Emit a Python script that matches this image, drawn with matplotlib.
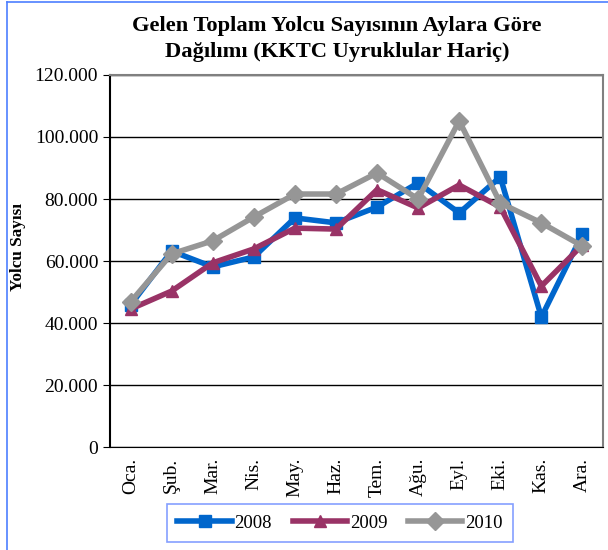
import matplotlib
matplotlib.use("Agg")
import matplotlib.pyplot as plt
from matplotlib.ticker import FuncFormatter
from matplotlib.lines import Line2D

aylar = ["Oca.", "Şub.", "Mar.", "Nis.", "May.", "Haz.", "Tem.", "Ağu.", "Eyl.", "Eki.", "Kas.", "Ara."]
y2008 = [45800, 63200, 58100, 61300, 73900, 72300, 77400, 85200, 75500, 87100, 41900, 68700]
y2009 = [44500, 50300, 59400, 63900, 70600, 70300, 83000, 77100, 84500, 77400, 51900, 65200]
y2010 = [46800, 62300, 66500, 74200, 81600, 81600, 88400, 80000, 105200, 78700, 72300, 64800]

plt.rcParams['font.family'] = ['Liberation Serif', 'DejaVu Serif']

fig = plt.figure(figsize=(6.08, 5.5), dpi=100)
ax = fig.add_axes([110/608, 1 - 447/550, 493/608, 372/550])

x = range(len(aylar))
ax.plot(x, y2008, color="#0066CC", lw=4, marker="s", ms=8, label="2008", zorder=3)
ax.plot(x, y2009, color="#993366", lw=4, marker="^", ms=8, label="2009", zorder=3)
ax.plot(x, y2010, color="#969696", lw=4, marker="D", ms=9, label="2010", zorder=4)

ax.set_xlim(-0.5, len(aylar) - 0.5)
ax.set_ylim(0, 120000)
ax.set_yticks(range(0, 120001, 20000))
ax.yaxis.set_major_formatter(FuncFormatter(lambda v, p: "0" if v == 0 else f"{int(v):,}".replace(",", ".")))
ax.set_xticks(list(x))
ax.set_xticklabels(aylar, rotation=90, fontsize=14)
ax.tick_params(axis="y", labelsize=14, length=5, direction="out")
ax.tick_params(axis="x", length=0, pad=8)
ax.yaxis.grid(True, color="black", lw=1)
ax.set_axisbelow(True)

for s in ["top", "right"]:
    ax.spines[s].set_color("#808080")
    ax.spines[s].set_linewidth(1.5)
ax.spines["bottom"].set_color("black")
ax.spines["left"].set_color("black")
ax.spines["left"].set_linewidth(1.5)

fig.text(18/608, 1 - 247/550, "Yolcu Sayısı", rotation=90, ha="center", va="center",
         fontsize=12.3, fontweight="bold")

fig.text(337/608, 1 - 26/550, "Gelen Toplam Yolcu Sayısının Aylara Göre", ha="center", va="center",
         fontsize=16.2, fontweight="bold")
fig.text(337/608, 1 - 52/550, "Dağılımı (KKTC Uyruklular Hariç)", ha="center", va="center",
         fontsize=16.2, fontweight="bold")

# dis cerceve (mavi, ust ve sol kenar)
fig.add_artist(Line2D([7/608, 1], [1 - 2/550, 1 - 2/550], color="#4D7FFF", lw=1.2))
fig.add_artist(Line2D([7/608, 7/608], [0, 1 - 2/550], color="#4D7FFF", lw=1.2))

leg = fig.legend(loc="center", bbox_to_anchor=(340/608, 1 - 523/550), ncol=3, fontsize=13.5,
                 frameon=True, fancybox=False, handlelength=2.9, columnspacing=1.1, handletextpad=0.15,
                 borderpad=0.55)
leg.get_frame().set_edgecolor("#6688FF")
leg.get_frame().set_linewidth(1.2)

fig.savefig("out.png", dpi=100)
